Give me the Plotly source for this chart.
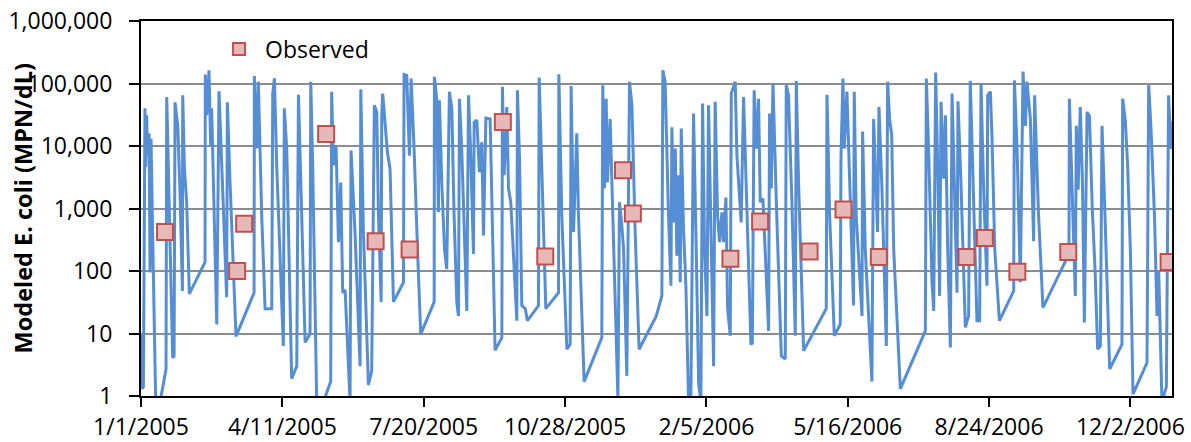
import pandas as pd
import plotly.graph_objects as go

# ---------------- data ----------------
# modeled E. coli: vertices of the daily series, days since 1/1/2005
model_day = [
    0, 0.9, 1.7, 2.4, 2.8, 3.3, 4.0, 4.7, 5.7, 6.4, 7.1, 8.0, 10.4, 13.5, 17.7, 18.2,
    20.5, 22.4, 23.4, 24.1, 26.0, 27.6, 29.3, 29.5, 30.7, 32.3, 34.2, 45.3, 45.5, 46.5,
    48.1, 49.3, 50.0, 51.2, 53.6, 55.2, 58.3, 60.6, 61.1, 63.0, 67.2, 80.0, 80.2, 81.9,
    83.0, 85.4, 87.8, 92.5, 93.2, 94.4, 96.0, 100.7, 101.4, 103.1, 106.6, 110.2, 111.4,
    116.1, 119.6, 120.1, 121.5, 124.3, 129, 134.2, 134.9, 136.1, 138, 139.7, 141.3,
    142.7, 144.4, 147.9, 148.6, 151.4, 155, 155.5, 157.3, 160.9, 163.2, 165.1, 166.8,
    168, 169.9, 170.3, 171, 172.7, 174.3, 176.2, 178.6, 185.7, 186.1, 188, 189.9, 191.1,
    193.2, 195.6, 197.9, 207.4, 207.6, 209.2, 210.4, 211.1, 212.8, 214.7, 216.3, 218.2,
    219.9, 221.5, 223.4, 224.6, 225.3, 226.9, 230.5, 231.7, 233.3, 235.2, 235.7, 237.6,
    239.4, 241.1, 242.3, 244, 247, 250.5, 255.3, 255.7, 256.9, 258.8, 260, 261.6, 263.5,
    265.9, 266.3, 267.8, 269.4, 271.8, 273.4, 281.2, 281.7, 283.6, 286.4, 295.4, 295.6,
    297.7, 301.3, 303.6, 304.3, 306, 308.3, 309.5, 313.5, 326, 326.7, 327.9, 329.1, 330,
    331.9, 333.8, 336.2, 337.4, 338.5, 340, 341.4, 343.7, 345.6, 347.3, 349.6, 352.4,
    364.5, 368.5, 369.2, 370.8, 373.2, 374.9, 375.6, 376.7, 378, 379.1, 380.3, 381.5,
    382.2, 383.8, 385.5, 387.4, 389, 390.9, 392.8, 394.5, 396.1, 397.3, 398.7, 400.4,
    401.5, 403.2, 405.1, 406.2, 407.9, 409.3, 411, 412.1, 413.8, 415, 416.9, 417.6,
    420.4, 421.6, 424.6, 426.3, 428.7, 431.5, 432.5, 433.8, 435.3, 436.9, 438.1, 440,
    444, 444.7, 445.9, 447.1, 449.4, 453, 455.8, 456.5, 458.1, 460.5, 462.9, 463.6,
    465.2, 468.8, 484.8, 485.3, 487.2, 490.5, 494.7, 495.2, 496.6, 497.5, 499.4, 502,
    504.1, 504.6, 506, 510.1, 510.5, 512.4, 517.1, 518.3, 521.1, 522.1, 524.2, 527.3,
    528.2, 529.6, 531.1, 532.5, 537.2, 554.9, 555.6, 557.2, 559.6, 560.8, 562.2, 563.8,
    565, 566, 567.9, 569.1, 570.7, 572.6, 573.8, 575.4, 577.3, 578, 580, 583.2, 585.5,
    586.7, 588.5, 591.4, 593.3, 594.3, 596, 598.5, 599, 600.9, 602, 604, 607.3, 617.4,
    617.9, 619.8, 622.1, 624, 625.7, 626.8, 629.2, 631.5, 632.2, 635, 638.1, 645.7,
    656.5, 656.8, 659, 661, 661.7, 663, 664.5, 666, 667.4, 669.3, 671, 673, 675, 676.8,
    678.7, 679.9, 682, 685.3, 694, 694.5, 696.4, 698, 700, 701.8, 711.7, 712.9, 714.5,
    717, 718.8, 720, 722.3, 725.4, 727, 728.5, 729,
]
model_value = [
    10, 1.3, 1.4, 21000, 40000, 4600, 31000, 7000, 16000, 95, 13000, 770, 0.8, 0.8, 2.7, 61000,
    225, 4.1, 4.3, 50000, 21000, 1800, 48, 65000, 4400, 1260, 43, 138, 139000, 31000,
    163000, 10000, 40000, 2600, 14, 75000, 770, 38, 50000, 2600, 9, 45, 132000, 9100,
    107000, 770, 25, 25, 69000, 121000, 4900, 6.3, 40000, 9100, 1.9, 3, 66000,
    7.2, 9.8, 107000, 4400, 0.8, 0.8, 1.7, 74000, 4900, 10000, 290, 2600,
    45, 50, 0.8, 8500, 420, 3, 81000, 470, 1.5, 2.5, 45000, 35000,
    770, 32, 31000, 69000, 19000, 8000, 4300, 32, 66, 139000, 135000, 7000, 120000,
    9100, 225, 9.8, 32, 128000, 57000, 870, 54000, 2600, 225, 107, 74000,
    40000, 770, 32, 19, 57000, 9100, 23, 65000, 7000, 187, 24000, 26000,
    3800, 11500, 370, 28000, 27000, 5.4, 8.6, 89000, 3400, 42000, 2100, 1260, 225,
    16, 78000, 6300, 28, 25, 16, 28, 125000, 4900, 25, 45, 141000,
    770, 5.6, 6.7, 91000, 420, 16000, 770, 1.7, 8.6, 94000, 2100, 57000, 2600,
    27000, 770, 5.6, 0.9, 1260, 600, 225, 2.1, 107000, 45000, 420, 5.6,
    19, 40, 163000, 107000, 770, 58, 20000, 600, 9100, 176, 3400, 66,
    19000, 470, 58, 0.8, 0.8, 33000, 225, 1.6, 0.8, 48000, 225, 19,
    45000, 680, 3, 51000, 770, 290, 870, 290, 1500, 25, 9.2, 69000,
    107000, 7000, 600, 61000, 600, 6.7, 7, 78000, 9100, 57000, 1260, 1440,
    11, 33000, 2100, 100000, 1440, 4.4, 3.9, 94000, 65000, 1260, 9.2, 110000,
    2600, 5.3, 25, 66000, 770, 9.2, 14, 6300, 120000, 9100, 74000, 1000,
    28, 74000, 770, 19, 17000, 225, 1.7, 27000, 420, 42000, 2100, 6.3,
    107000, 27000, 15000, 225, 1.3, 11, 120000, 9100, 66, 23, 150000, 3000,
    40, 51000, 3000, 31000, 225, 6, 69000, 2600, 45, 52000, 3000, 12.5, 19,
    110000, 2600, 16, 16, 100000, 2600, 58, 65000, 74000, 15000, 225, 16, 48,
    112000, 9100, 66, 155000, 21000, 107000, 27000, 300, 65000, 770, 26, 60,
    187, 57000, 770, 40, 21000, 2000, 42000, 3000, 15, 35000, 30000, 1000, 100, 5.6,
    6.3, 21000, 770, 2.7, 6.7, 57000, 25000, 5000, 200, 1.07, 3.4, 94000, 20000,
    770, 19, 100, 0.8, 1.4, 65000, 9000, 25000,
]

# observed samples
obs_date = [
    "2005-01-18", "2005-03-10", "2005-03-15", "2005-05-12", "2005-06-16", "2005-07-10",
    "2005-09-14", "2005-10-14", "2005-12-08", "2005-12-15", "2006-02-22", "2006-03-15",
    "2006-04-19", "2006-05-13", "2006-06-07", "2006-08-08", "2006-08-21", "2006-09-13",
    "2006-10-19", "2006-12-29",
]
obs_value = [420, 100, 570, 15600, 300, 220, 24300, 170, 4100, 830, 157, 620,
             205, 960, 167, 167, 337, 97, 201, 139]

x_tick_dates = ["2005-01-01", "2005-04-11", "2005-07-20", "2005-10-28",
                "2006-02-05", "2006-05-16", "2006-08-24", "2006-12-02"]
x_tick_labels = ["1/1/2005", "4/11/2005", "7/20/2005", "10/28/2005",
                 "2/5/2006", "5/16/2006", "8/24/2006", "12/2/2006"]
y_tick_vals = [1, 10, 100, 1000, 10000, 100000, 1000000]
y_tick_labels = ["1", "10", "100", "1,000", "10,000", "100,000", "1,000,000"]

# ---------------- figure ----------------
start = pd.Timestamp("2005-01-01")
model_dates = start + pd.to_timedelta(model_day, unit="D")

FONT = "Open Sans"

fig = go.Figure()
fig.add_trace(go.Scatter(
    x=model_dates, y=model_value, mode="lines",
    line=dict(color="#558ED5", width=3),
    showlegend=False, name="Modeled",
))
fig.add_trace(go.Scatter(
    x=pd.to_datetime(obs_date), y=obs_value, mode="markers",
    name="\u00a0Observed",
    marker=dict(symbol="square", size=16, color="#E6B9B8",
                line=dict(color="#C0504D", width=2)),
))

fig.update_layout(
    width=1191, height=442,
    margin=dict(l=141, r=19, t=21, b=46, autoexpand=False),
    paper_bgcolor="white", plot_bgcolor="white",
    font=dict(family=FONT, size=23, color="black"),
    legend=dict(x=0.0757, y=0.925, xanchor="left", yanchor="middle",
                bgcolor="rgba(0,0,0,0)", font=dict(size=23),
                itemsizing="constant"),
    annotations=[dict(
        text="<b>Modeled E. coli (MPN/dL)</b>", xref="paper", yref="paper",
        x=-0.1145, y=0.5, textangle=-90, showarrow=False,
        xanchor="center", yanchor="middle",
        font=dict(family=FONT, size=23.5, color="black"),
    )],
)
fig.update_xaxes(
    type="date", automargin=False,
    range=[start, start + pd.Timedelta(days=729.4)],
    tickvals=pd.to_datetime(x_tick_dates), ticktext=x_tick_labels,
    tickfont=dict(size=23),
    showgrid=False, showline=True, linecolor="black", linewidth=2,
    mirror=True, ticks="outside", ticklen=9, tickcolor="black", tickwidth=2,
    ticklabelstandoff=0, zeroline=False,
)
fig.update_yaxes(
    type="log", range=[0, 6], automargin=False,
    tickvals=y_tick_vals, ticktext=y_tick_labels,
    showgrid=True, gridcolor="#8C8C8C", gridwidth=1.5,
    showline=True, linecolor="black", linewidth=2, mirror=True,
    ticks="outside", ticklen=10, tickcolor="black", tickwidth=2,
    ticklabelstandoff=12, zeroline=False,
)

fig.write_html("out.html",
               config={"displayModeBar": False},
               post_script="document.body.style.margin='0';"
                           "document.body.style.overflow='hidden';")
